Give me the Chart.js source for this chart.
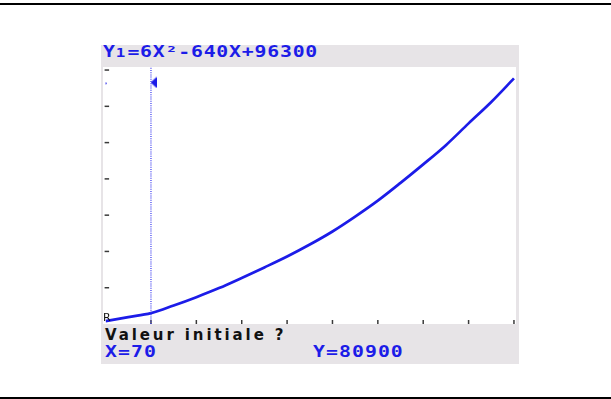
<!DOCTYPE html>
<html>
<head>
<meta charset="utf-8">
<script src="https://cdn.jsdelivr.net/npm/chart.js"></script>
<style>
  html, body { margin: 0; padding: 0; background: #fff; }
  body { width: 611px; height: 399px; position: relative; overflow: hidden; }
  .rule { position: absolute; left: 0; width: 611px; background: #000; }
  #screen { position: absolute; left: 101px; top: 45px; width: 418px; height: 319px; background: #e7e4e7; }
  #graph { position: absolute; left: 103px; top: 67px; background: #fff; display: block; }
  .calc { position: absolute; font-family: "DejaVu Sans Mono", monospace; font-weight: bold;
          font-size: 15px; line-height: 15px; letter-spacing: 0.8px; color: #1c1ce8; white-space: pre;
          transform: scaleX(1.32); transform-origin: 0 0; }
  .small1 { font-size: 12px; letter-spacing: 1.6px; }
  .prompt { position: absolute; font-family: "DejaVu Sans", sans-serif; font-weight: bold;
            font-size: 15px; line-height: 15px; letter-spacing: 2.9px; color: #111; white-space: pre; }
  .corner { position: absolute; font-family: "DejaVu Sans", sans-serif; font-size: 11px;
            line-height: 11px; color: #111; }
</style>
</head>
<body>
<div class="rule" style="top:3px;height:2px"></div>
<div class="rule" style="top:397px;height:2px"></div>
<div id="screen"></div>
<canvas id="graph" width="413" height="257"></canvas>

<div class="calc" style="left:103px;top:45px;letter-spacing:0.6px">Y<span class="small1">1</span>=6X²-640X+96300</div>
<div class="prompt" style="left:105px;top:328px">Valeur initiale ?</div>
<div class="calc" style="left:105px;top:345px">X=70</div>
<div class="calc" style="left:313px;top:345px">Y=80900</div>
<div class="corner" style="left:103px;top:312px">R</div>

<script>
// window in tick units (one unit = one Xscl / Yscl step on the screen)
const xMax = 9.045;
const yMax = 7.084;

// curve, half a tick apart
const curveX = [0, 0.5, 1, 1.5, 2, 2.5, 3, 3.5, 4, 4.5, 5, 5.5, 6, 6.5, 7, 7.5, 8, 8.5, 9];
const curveY = [0.08, 0.19, 0.30, 0.51, 0.74, 0.99, 1.27, 1.56, 1.86, 2.19, 2.55, 2.96, 3.40, 3.89, 4.40, 4.93, 5.53, 6.12, 6.77];

// trace cursor (X=70 sits on the first tick)
const cursorX = 1;
const markerX = 1.056;
const markerY = 6.657;
const dotY = 6.63;

const blue = '#1c1ce8';

// narrow left-pointing cursor arrow
const arrow = document.createElement('canvas');
arrow.width = 6;
arrow.height = 12;
const ac = arrow.getContext('2d');
ac.fillStyle = blue;
ac.beginPath();
ac.moveTo(0, 6);
ac.lineTo(6, 0.5);
ac.lineTo(6, 11.5);
ac.closePath();
ac.fill();

// small tick marks drawn inward from the left and bottom edges
const tickMarks = {
    id: 'tickMarks',
    beforeDatasetsDraw(chart) {
        const ctx = chart.ctx;
        const area = chart.chartArea;
        const xs = chart.scales.x;
        const ys = chart.scales.y;
        ctx.save();
        ctx.strokeStyle = '#3a3a3a';
        ctx.lineWidth = 1.5;
        xs.ticks.forEach(function(t) {
            if (t.value <= 0) return;
            const px = xs.getPixelForValue(t.value);
            ctx.beginPath();
            ctx.moveTo(px, area.bottom);
            ctx.lineTo(px, area.bottom - 4);
            ctx.stroke();
        });
        ys.ticks.forEach(function(t) {
            if (t.value <= 0) return;
            const py = ys.getPixelForValue(t.value);
            ctx.beginPath();
            ctx.moveTo(area.left - 1, py);
            ctx.lineTo(area.left + 3.5, py);
            ctx.stroke();
        });
        ctx.restore();
    }
};

const hiddenAxis = {
    type: 'linear',
    grid: { display: false, drawTicks: false },
    border: { display: false },
    ticks: { display: false, stepSize: 1, includeBounds: false }
};

new Chart(document.getElementById('graph'), {
    type: 'scatter',
    data: {
        datasets: [
            {
                data: [{ x: cursorX, y: 0 }, { x: cursorX, y: yMax }],
                showLine: true,
                borderColor: '#3434f0',
                borderWidth: 1.2,
                borderDash: [1, 1.2],
                pointRadius: 0
            },
            {
                data: curveX.map(function(x, i) { return { x: x, y: curveY[i] }; }),
                showLine: true,
                borderColor: blue,
                borderWidth: 2.7,
                cubicInterpolationMode: 'monotone',
                pointRadius: 0
            },
            {
                data: [{ x: markerX, y: markerY }],
                pointStyle: arrow,
                pointRadius: 6
            },
            {
                data: [{ x: 0, y: dotY }],
                pointRadius: 1.1,
                backgroundColor: blue,
                borderWidth: 0
            }
        ]
    },
    options: {
        responsive: false,
        animation: false,
        layout: { autoPadding: false, padding: { left: 2.6, right: 0, top: 0, bottom: 0 } },
        plugins: {
            legend: { display: false },
            tooltip: { enabled: false }
        },
        scales: {
            x: Object.assign({}, hiddenAxis, { min: 0, max: xMax }),
            y: Object.assign({}, hiddenAxis, { min: 0, max: yMax })
        }
    },
    plugins: [tickMarks]
});
</script>
</body>
</html>
